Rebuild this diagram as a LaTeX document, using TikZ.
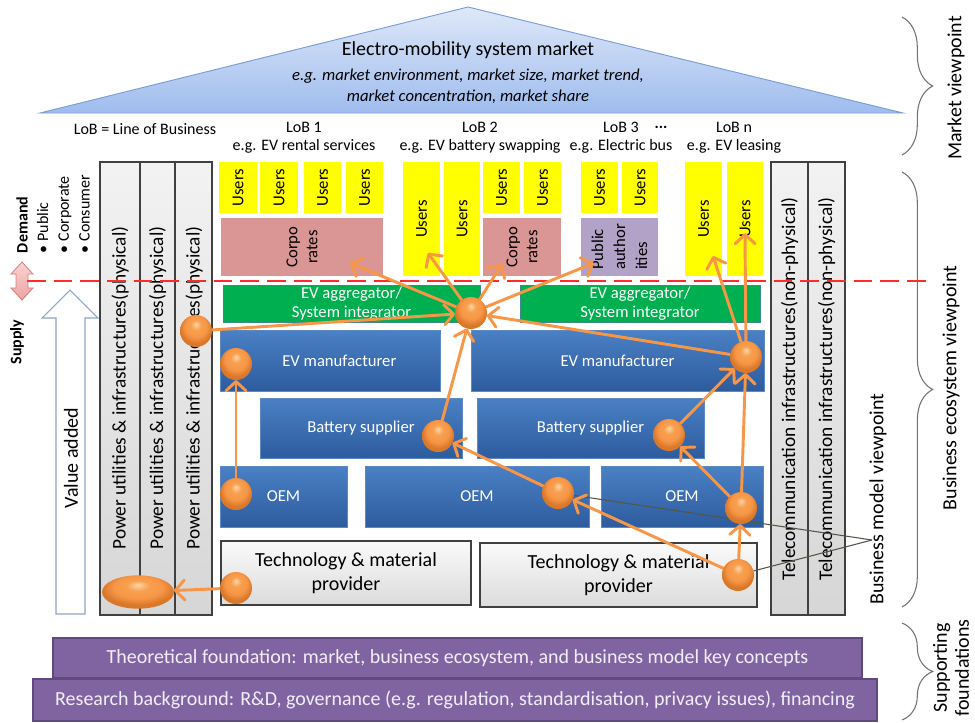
\documentclass[tikz,border=0pt]{standalone}
\usepackage{fontspec}
\setmainfont{Carlito}
\usetikzlibrary{arrows.meta,decorations.pathreplacing,shapes.geometric}
\pgfdeclarelayer{back}
\pgfdeclarelayer{mid}
\pgfsetlayers{back,mid,main}

\definecolor{usery}{HTML}{FFFF00}
\definecolor{corp}{HTML}{D99694}
\definecolor{pub}{HTML}{B3A2C7}
\definecolor{aggr}{HTML}{00B050}
\definecolor{aggline}{HTML}{3D8A8A}
\definecolor{bluetop}{HTML}{4A80C4}
\definecolor{bluebot}{HTML}{2D5C9E}
\definecolor{blueline}{HTML}{5C88C4}
\definecolor{orng}{HTML}{F79646}
\definecolor{orhi}{HTML}{FCD3A8}
\definecolor{ormid}{HTML}{F7A04E}
\definecolor{ordark}{HTML}{D9782A}
\definecolor{purp}{HTML}{8064A2}
\definecolor{purpd}{HTML}{5F4A80}
\definecolor{purptext}{HTML}{F2EEF8}
\definecolor{rooftop}{HTML}{DEE8F8}
\definecolor{roofbot}{HTML}{9FBCEE}
\definecolor{roofline}{HTML}{7A9DD6}
\definecolor{brgray}{HTML}{767171}
\definecolor{valline}{HTML}{8EA4C8}
\definecolor{pinkl}{HTML}{F9D4D4}
\definecolor{pinkd}{HTML}{EDA2A2}
\definecolor{pinkb}{HTML}{D87B7B}
\definecolor{dashred}{HTML}{FF2A2A}
\definecolor{bmgray}{HTML}{55554A}

\pgfdeclareradialshading{orball}{\pgfpoint{0bp}{11bp}}{color(0bp)=(orhi); color(8bp)=(ormid); color(17bp)=(orng); color(25bp)=(ordark); color(50bp)=(ordark)}

\newcommand{\fs}[2]{\fontsize{#1}{#2}\selectfont}
\newcommand{\mybox}[7]{\node[#2, minimum width={(#5-#3)*0.75pt}, minimum height={(#6-#4)*0.75pt}] (#1) at ({(#3+#5)/2},{(#4+#6)/2}) {#7};}
\newcommand{\myboxr}[7]{\node[#2, rotate=90, minimum width={(#6-#4)*0.75pt}, minimum height={(#5-#3)*0.75pt}] (#1) at ({(#3+#5)/2},{(#4+#6)/2}) {#7};}

\begin{document}
\begin{tikzpicture}[x=0.75pt,y=-0.75pt,
  base/.style={inner sep=0pt, outer sep=0pt},
  userbox/.style={base, fill=usery, font=\fs{12.5}{15}},
  corpbox/.style={base, fill=corp, align=center, font=\fs{12.5}{15}},
  pubbox/.style={base, fill=pub, align=left, font=\fs{12.5}{16.5}},
  aggbox/.style={base, fill=aggr, draw=aggline, line width=0.6pt, text=white, align=center, font=\fs{12.5}{14.3}},
  bluebox/.style={base, top color=bluetop, bottom color=bluebot, draw=blueline, line width=0.6pt, text=white, font=\fs{12.5}{15}},
  techbox/.style={base, top color=gray!4, bottom color=gray!28, draw=black!75, line width=0.9pt, align=center, font=\fs{15}{17.5}},
  colbox/.style={base, top color=gray!10, bottom color=gray!32, draw=black!75, line width=0.9pt},
  coltext/.style={base, rotate=90, font=\fs{14.5}{17}},
  foundbox/.style={base, fill=purp, draw=purpd, line width=1.2pt, text=purptext, font=\fs{15}{18}},
  lob/.style={base, align=center, font=\fs{12}{13.5}},
  rlabel/.style={base, rotate=90, align=center, font=\fs{15}{16.5}},
  dot/.style={circle, shading=orball, minimum size=24pt, inner sep=0pt, outer sep=0pt},
  oarrow/.style={draw=orng, line width=2.2pt, line cap=round, line join=round, -{Straight Barb[length=7pt, width=15pt, round]}},
  bmline/.style={draw=bmgray, line width=0.8pt},
  bracestyle/.style={draw=brgray, line width=0.8pt, decorate, decoration={brace, amplitude=23pt}}
]
\useasboundingbox (0,0) rectangle (975,722);

\begin{pgfonlayer}{back}
% roof
\shadedraw[top color=rooftop, bottom color=roofbot, draw=roofline, line width=0.7pt] (40,113) -- (468,7) -- (903,113) -- cycle;
\node[base, font=\fs{15}{18}] (rooftitle) at (468,50) {Electro-mobility system market};
\node[base, align=center, font=\itshape\fs{12.5}{15.75}] (roofsub) at (468,86) {e.g. market environment, market size, market trend,\\market concentration, market share};

% LoB labels
\node[lob] (lob0) at (145,129) {LoB = Line of Business};
\node[lob] (lob1) at (304,138) {LoB 1\\e.g. EV rental services};
\node[lob] (lob2) at (480,138) {LoB 2\\e.g. EV battery swapping};
\node[lob] (lob3) at (621,138) {LoB 3\\e.g. Electric bus};
\node[lob, font=\bfseries\fs{12}{13.5}] (lobdots) at (661,127) {...};
\node[lob] (lobn) at (734,138) {LoB n\\e.g. EV leasing};

% demand / supply
\node[base, rotate=90, anchor=west, align=left, font=\fs{12}{15.5}] (demand) at (53,253) {\textbf{Demand}\\• Public\\• Corporate\\• Consumer};
\node[base, rotate=90, font=\bfseries\fs{12}{14}] (supply) at (17,342) {Supply};
\shadedraw[top color=pinkl, bottom color=pinkd, draw=pinkb, line width=0.6pt] (22,262) -- (33,274) -- (28,274) -- (28,288) -- (33,288) -- (22,300) -- (11,288) -- (16,288) -- (16,274) -- (11,274) -- cycle;

% value added arrow
\draw[draw=valline, fill=white, line width=0.8pt] (70,290) -- (98,318) -- (85,318) -- (85,614) -- (56,614) -- (56,318) -- (42,318) -- cycle;
\node[base, rotate=90, font=\fs{15}{18}] (valueadded) at (71,458) {Value added};

% power columns
\mybox{pcol1}{colbox}{100}{162}{140}{615}{}
\mybox{pcol2}{colbox}{140}{162}{175}{615}{}
\mybox{pcol3}{colbox}{175}{162}{212}{615}{}
\node[coltext] (ptext1) at (120,388) {Power utilities \& infrastructures(physical)};
\node[coltext] (ptext2) at (157.5,388) {Power utilities \& infrastructures(physical)};
\node[coltext] (ptext3) at (194,388) {Power utilities \& infrastructures(physical)};

% telecom columns
\mybox{tcol1}{colbox}{771}{162}{808}{615}{}
\mybox{tcol2}{colbox}{808}{162}{845}{615}{}
\node[coltext] (ttext1) at (789.5,389) {Telecommunication infrastructures(non-physical)};
\node[coltext] (ttext2) at (826.5,389) {Telecommunication infrastructures(non-physical)};

% LoB 1
\myboxr{u11}{userbox}{219}{162}{257}{213}{Users}
\myboxr{u12}{userbox}{260}{162}{298}{213}{Users}
\myboxr{u13}{userbox}{304}{162}{341}{213}{Users}
\myboxr{u14}{userbox}{346}{162}{383}{213}{Users}
\myboxr{corp1}{corpbox}{221}{218}{383}{276}{Corpo\\rates}
% LoB 2
\myboxr{u21}{userbox}{403}{162}{440}{276}{Users}
\myboxr{u22}{userbox}{444}{162}{480}{276}{Users}
\myboxr{u23}{userbox}{483}{162}{520}{213}{Users}
\myboxr{u24}{userbox}{524}{162}{561}{213}{Users}
\myboxr{corp2}{corpbox}{483}{218}{561}{276}{Corpo\\rates}
% LoB 3
\myboxr{u31}{userbox}{581}{162}{618}{213}{Users}
\myboxr{u32}{userbox}{622}{162}{658}{213}{Users}
\myboxr{pub3}{pubbox}{581}{218}{658}{276}{Public\\author\\ities}
% LoB n
\myboxr{un1}{userbox}{685}{162}{722}{276}{Users}
\myboxr{un2}{userbox}{727}{162}{763}{276}{Users}

% aggregators
\mybox{agg1}{aggbox}{223}{285}{480}{322}{EV aggregator/\\System integrator}
\mybox{agg2}{aggbox}{520}{285}{760}{322}{EV aggregator/\\System integrator}

% blue boxes
\mybox{evm1}{bluebox}{220}{330}{440}{391}{\hspace*{14pt}EV manufacturer}
\mybox{evm2}{bluebox}{471}{330}{764}{391}{EV manufacturer}
\mybox{bat1}{bluebox}{260}{398}{462}{458}{Battery supplier}
\mybox{bat2}{bluebox}{477}{398}{704}{458}{Battery supplier}
\mybox{oem1}{bluebox}{220}{466}{347}{527}{OEM}
\mybox{oem2}{bluebox}{365}{466}{589}{527}{OEM}
\mybox{oem3}{bluebox}{601}{466}{763}{527}{OEM}

% technology
\mybox{tech1}{techbox}{221}{541}{471}{605}{Technology \& material\\provider}
\mybox{tech2}{techbox}{480}{543}{757}{607}{Technology \& material\\provider}

% foundations
\mybox{found1}{foundbox}{53}{638}{862}{678}{Theoretical foundation: market, business ecosystem, and business model key concepts}
\mybox{found2}{foundbox}{33}{679}{877}{721}{Research background: R\&D, governance (e.g. regulation, standardisation, privacy issues), financing}

% braces and viewpoint labels
\draw[bracestyle] (902,17) -- (902,155);
\draw[bracestyle] (902,172) -- (902,607);
\draw[bracestyle] (902,623) -- (902,720);
\node[rlabel] (mview) at (956,88) {Market viewpoint};
\node[rlabel] (eview) at (951,388) {Business ecosystem viewpoint};
\node[rlabel] (sview) at (951,668) {Supporting\\foundations};
\node[rlabel] (bview) at (878,499) {Business model viewpoint};
\end{pgfonlayer}

% circles
\node[dot] (c1) at (196,331) {};
\node[dot] (c2) at (236,364) {};
\node[dot] (c3) at (236,494) {};
\node[dot] (c4) at (236,588) {};
\node[ellipse, shading=orball, minimum width=54pt, minimum height=25pt, inner sep=0pt, outer sep=0pt] (c5) at (138,592) {};
\node[dot] (c6) at (471,313) {};
\node[dot] (c7) at (438,436) {};
\node[dot] (c8) at (558,493) {};
\node[dot] (c9) at (746,357) {};
\node[dot] (c10) at (669,435) {};
\node[dot] (c11) at (741,508) {};
\node[dot] (c12) at (738,575) {};

\coordinate (t1) at (350,263);
\coordinate (t2) at (428,253);
\coordinate (t3) at (502,264);
\coordinate (t4) at (594,263);
\coordinate (t5) at (713,256);
\coordinate (t6) at (745,233);
\coordinate (bm) at (872,540);
\coordinate (dl) at (27,281);
\coordinate (dr) at (930,281);

\begin{pgfonlayer}{mid}
\draw[dashred, line width=1.8pt, dash pattern=on 14pt off 6pt] (dl) -- (dr);
\draw[bmline] (c8) -- (bm);
\draw[bmline] (c12) -- (bm);
\draw[oarrow] (c4) -- (c5);
\draw[oarrow] (c3) -- (c2);
\draw[oarrow] (c1) -- (c6);
\draw[oarrow] (c7) -- (c6);
\draw[oarrow] (c9) -- (c6);
\draw[oarrow] (c6) -- (t1);
\draw[oarrow] (c6) -- (t2);
\draw[oarrow] (c6) -- (t3);
\draw[oarrow] (c6) -- (t4);
\draw[oarrow] (c9) -- (t5);
\draw[oarrow] (c9) -- (t6);
\draw[oarrow] (c10) -- (c9);
\draw[oarrow] (c11) -- (c10);
\draw[oarrow] (c11) -- (c9);
\draw[oarrow] (c12) -- (c11);
\draw[oarrow] (c12) -- (c8);
\draw[oarrow] (c8) -- (c7);
\end{pgfonlayer}
\end{tikzpicture}
\end{document}
